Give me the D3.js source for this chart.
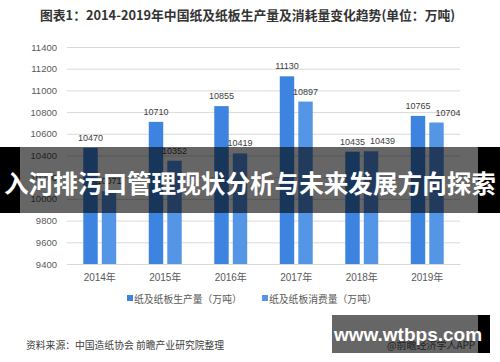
<!DOCTYPE html>
<html lang="zh">
<head>
  <meta charset="utf-8">
  <title>纸及纸板生产量及消耗量</title>
  <style>
    html, body { margin: 0; padding: 0; background: #fff; }
    svg { display: block; }
    text { font-family: "Liberation Sans", "Noto Sans CJK SC", sans-serif; }
    .cjk { font-family: "Noto Sans CJK SC", sans-serif; }
  </style>
</head>
<body>
  <div id="chart"></div>

<script src="https://cdn.jsdelivr.net/npm/d3@7/dist/d3.min.js"></script>
<script>

  ////////////////////////////////////////////////// DATA

  var years       = ["2014年", "2015年", "2016年", "2017年", "2018年", "2019年"];
  var production  = [10470, 10710, 10855, 11130, 10435, 10765];
  var consumption = [10071, 10352, 10419, 10897, 10439, 10704];
  var seriesNames = ["纸及纸板生产量（万吨）", "纸及纸板消费量（万吨）"];
  var yTicks      = [9400, 9600, 9800, 10000, 10200, 10400, 10600, 10800, 11000, 11200, 11400];

  ////////////////////////////////////////////////// SETUP

  var width = 500, height = 362;
  var plot = {left: 67, right: 460, top: 47, bottom: 264};
  var colors = ["#3d84e0", "#5595e6"];

  var svg = d3.select("#chart").append("svg")
              .attr("width", width)
              .attr("height", height);

  var x = d3.scaleBand()
            .domain(years)
            .range([plot.left, plot.right]);

  var x1 = d3.scaleBand()
             .domain([0, 1])
             .range([0, x.bandwidth()])
             .paddingInner(0.22)
             .paddingOuter(0.88);

  var y = d3.scaleLinear()
            .domain([9400, 11400])
            .range([plot.bottom, plot.top]);

  // title
  svg.append("text")
     .attr("class", "cjk")
     .attr("x", 40)
     .attr("y", 20)
     .attr("font-size", 12.8)
     .attr("font-weight", "bold")
     .attr("fill", "#333")
     .text("图表1：2014-2019年中国纸及纸板生产量及消耗量变化趋势(单位：万吨)");

  // gridlines + y axis
  var yAxis = d3.axisLeft(y)
                .tickValues(yTicks)
                .tickSize(-(plot.right - plot.left))
                .tickPadding(10)
                .tickFormat(d3.format("d"));

  var gy = svg.append("g")
              .attr("transform", "translate(" + plot.left + ",0)")
              .call(yAxis);
  gy.select(".domain").remove();
  gy.selectAll(".tick line").attr("stroke", "#d9d9d9").attr("stroke-width", 1);
  gy.selectAll(".tick text").attr("fill", "#595959").attr("font-size", 9.5);

  // x axis
  var xAxis = d3.axisBottom(x).tickSize(0).tickPadding(10);
  var gx = svg.append("g")
              .attr("transform", "translate(0," + plot.bottom + ")")
              .call(xAxis);
  gx.select(".domain").attr("stroke", "#d9d9d9");
  gx.selectAll(".tick text").attr("fill", "#595959").attr("font-size", 10);

  ////////////////////////////////////////////////// BARS

  var series = [production, consumption];
  var labels = [];

  series.forEach(function(values, s) {
    var g = svg.append("g");

    g.selectAll("rect")
     .data(values)
     .enter()
     .append("rect")
     .attr("x", function(d, i) { return x(years[i]) + x1(s); })
     .attr("y", function(d) { return y(d); })
     .attr("width", x1.bandwidth())
     .attr("height", function(d) { return y(9400) - y(d); })
     .attr("fill", colors[s]);

    labels[s] = g.selectAll("text")
     .data(values)
     .enter()
     .append("text")
     .attr("x", function(d, i) { return x(years[i]) + x1(s) + x1.bandwidth() / 2; })
     .attr("y", function(d) { return y(d) - 7; })
     .attr("text-anchor", "middle")
     .attr("font-size", 9)
     .attr("fill", "#404040")
     .text(function(d) { return d; });
  });

  // nudge a consumption label to the right when it collides with its neighbour
  labels[1].each(function(d, i) {
    var a = labels[0].nodes()[i].getBBox();
    var b = this.getBBox();
    var overlapY = Math.abs(a.y - b.y) < a.height;
    var overlapX = b.x < a.x + a.width + 4;
    if (overlapY && overlapX) {
      d3.select(this).attr("x", +d3.select(this).attr("x") + (a.x + a.width + 5 - b.x));
    }
  });

  ////////////////////////////////////////////////// LEGEND

  var legendX = [127, 262];
  seriesNames.forEach(function(name, s) {
    svg.append("rect")
       .attr("x", legendX[s])
       .attr("y", 295)
       .attr("width", 6)
       .attr("height", 6)
       .attr("fill", colors[s]);
    svg.append("text")
       .attr("class", "cjk")
       .attr("x", legendX[s] + 7)
       .attr("y", 302.5)
       .attr("font-size", 9.8)
       .attr("fill", "#595959")
       .text(name);
  });

  // source
  svg.append("text")
     .attr("class", "cjk")
     .attr("x", 26)
     .attr("y", 348.5)
     .attr("font-size", 9.8)
     .attr("fill", "#404040")
     .text("资料来源：中国造纸协会 前瞻产业研究院整理");

  ////////////////////////////////////////////////// OVERLAYS

  // banner
  svg.append("rect").attr("x", 0).attr("y", 147).attr("width", 20).attr("height", 66).attr("fill", "#000");
  svg.append("rect").attr("x", 20).attr("y", 147).attr("width", 458).attr("height", 66).attr("fill", "rgba(0,0,0,0.6)");
  svg.append("rect").attr("x", 478).attr("y", 147).attr("width", 22).attr("height", 66).attr("fill", "#000");

  svg.append("text")
     .attr("class", "cjk")
     .attr("x", 250)
     .attr("y", 193)
     .attr("text-anchor", "middle")
     .attr("font-size", 24.6)
     .attr("font-weight", "bold")
     .attr("fill", "#fff")
     .text("入河排污口管理现状分析与未来发展方向探索");

  // site mark
  svg.append("rect").attr("x", 332).attr("y", 315).attr("width", 146).attr("height", 38).attr("fill", "rgba(0,0,0,0.6)");
  svg.append("rect").attr("x", 478).attr("y", 315).attr("width", 12).attr("height", 38).attr("fill", "#000");

  svg.append("text")
     .attr("class", "cjk")
     .attr("x", 387)
     .attr("y", 349)
     .attr("font-size", 10)
     .attr("fill", "#222")
     .text("@前瞻经济学人APP");

  svg.append("text")
     .attr("x", 408)
     .attr("y", 341)
     .attr("text-anchor", "middle")
     .attr("font-family", "'DejaVu Sans', sans-serif")
     .attr("font-size", 19)
     .attr("font-weight", "bold")
     .attr("fill", "#fff")
     .text("www.wtbps.com");

</script>
</body>
</html>
